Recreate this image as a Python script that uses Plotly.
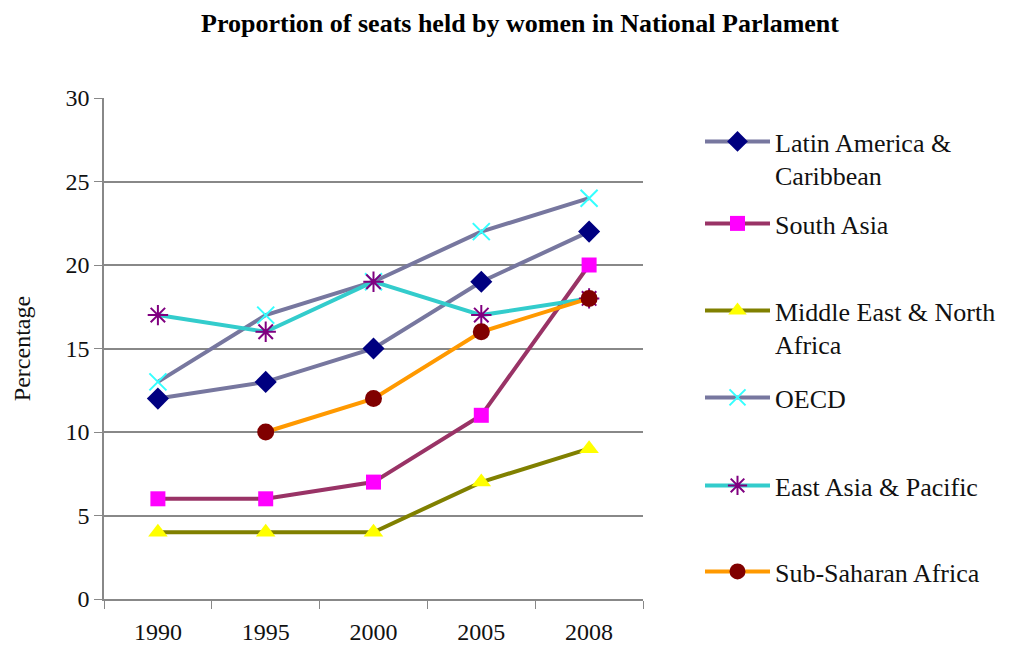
import plotly.graph_objects as go

# Share of parliamentary seats held by women, by region
years = ["1990", "1995", "2000", "2005", "2008"]

latin_america = [12, 13, 15, 19, 22]
south_asia = [6, 6, 7, 11, 20]
middle_east = [4, 4, 4, 7, 9]
oecd = [13, 17, 19, 22, 24]
east_asia = [17, 16, 19, 17, 18]
sub_saharan = [None, 10, 12, 16, 18]

y_ticks = [0, 5, 10, 15, 20, 25, 30]

FONT = "Liberation Serif, Times New Roman, serif"
TEXT = "#111111"

series = [
    dict(name="Latin America &<br>Caribbean", y=latin_america, line="#77779f",
         symbol="diamond", mcolor="#000080", mline=None, size=17),
    dict(name="South Asia", y=south_asia, line="#993366",
         symbol="square", mcolor="#ff00ff", mline=None, size=15),
    dict(name="Middle East & North<br>Africa", y=middle_east, line="#808000",
         symbol="triangle-up", mcolor="#ffff00", mline=None, size=17),
    dict(name="OECD", y=oecd, line="#77779f",
         symbol="x-thin", mcolor="#33ffff", mline="#33ffff", size=17),
    dict(name="East Asia & Pacific", y=east_asia, line="#33cccc",
         symbol="asterisk", mcolor="#800080", mline="#800080", size=17),
    dict(name="Sub-Saharan Africa", y=sub_saharan, line="#ff9900",
         symbol="circle", mcolor="#800000", mline=None, size=17),
]

fig = go.Figure()

# pixel tops of the individual legend boxes
legend_tops = [118, 200, 287, 374, 462, 548]
H_TOP, H_BOT = 98, 599

for i, s in enumerate(series):
    marker = dict(symbol=s["symbol"], size=s["size"], color=s["mcolor"])
    if s["mline"]:
        marker["line"] = dict(color=s["mline"], width=2)
    else:
        marker["line"] = dict(width=0)
    fig.add_trace(go.Scatter(
        x=years, y=s["y"], name=s["name"], mode="lines+markers",
        line=dict(color=s["line"], width=4),
        marker=marker,
        legend="legend" if i == 0 else f"legend{i + 1}",
    ))

legend_layout = {}
for i, top in enumerate(legend_tops):
    key = "legend" if i == 0 else f"legend{i + 1}"
    legend_layout[key] = dict(
        x=(700 - 104) / (643 - 104), xanchor="left",
        y=(H_BOT - top) / (H_BOT - H_TOP), yanchor="top",
        font=dict(family=FONT, size=26, color=TEXT),
        bgcolor="rgba(0,0,0,0)", valign="top",
        itemwidth=65,
    )

fig.update_layout(
    width=1021, height=651,
    margin=dict(l=104, r=378, t=98, b=52, autoexpand=False),
    paper_bgcolor="white", plot_bgcolor="white",
    title=dict(
        text="<b>Proportion of seats held by women in National Parlament</b>",
        x=520 / 1021, xanchor="center", y=1 - 23 / 651, yanchor="middle",
        font=dict(family=FONT, size=26, color="#000000"),
    ),
    font=dict(family=FONT, size=24, color=TEXT),
    showlegend=True,
    **legend_layout,
)

fig.update_xaxes(
    type="category", range=[-0.5, 4.5], automargin=False,
    showline=True, linecolor="#888888", linewidth=1.5,
    ticks="outside", tickson="boundaries", ticklen=8, tickcolor="#888888",
    ticklabelstandoff=10,
    showgrid=False, tickfont=dict(family=FONT, size=24, color=TEXT),
)
fig.update_yaxes(
    range=[0, 30], tickvals=y_ticks, automargin=False,
    showline=True, linecolor="#888888", linewidth=1.5,
    ticks="outside", ticklen=8, tickcolor="#888888",
    showgrid=True, gridcolor="#888888", gridwidth=1.5,
    zeroline=False,
    title=dict(text="Percentage", font=dict(family=FONT, size=24, color=TEXT), standoff=28),
    tickfont=dict(family=FONT, size=24, color=TEXT),
)

fig.write_html("out.html")
